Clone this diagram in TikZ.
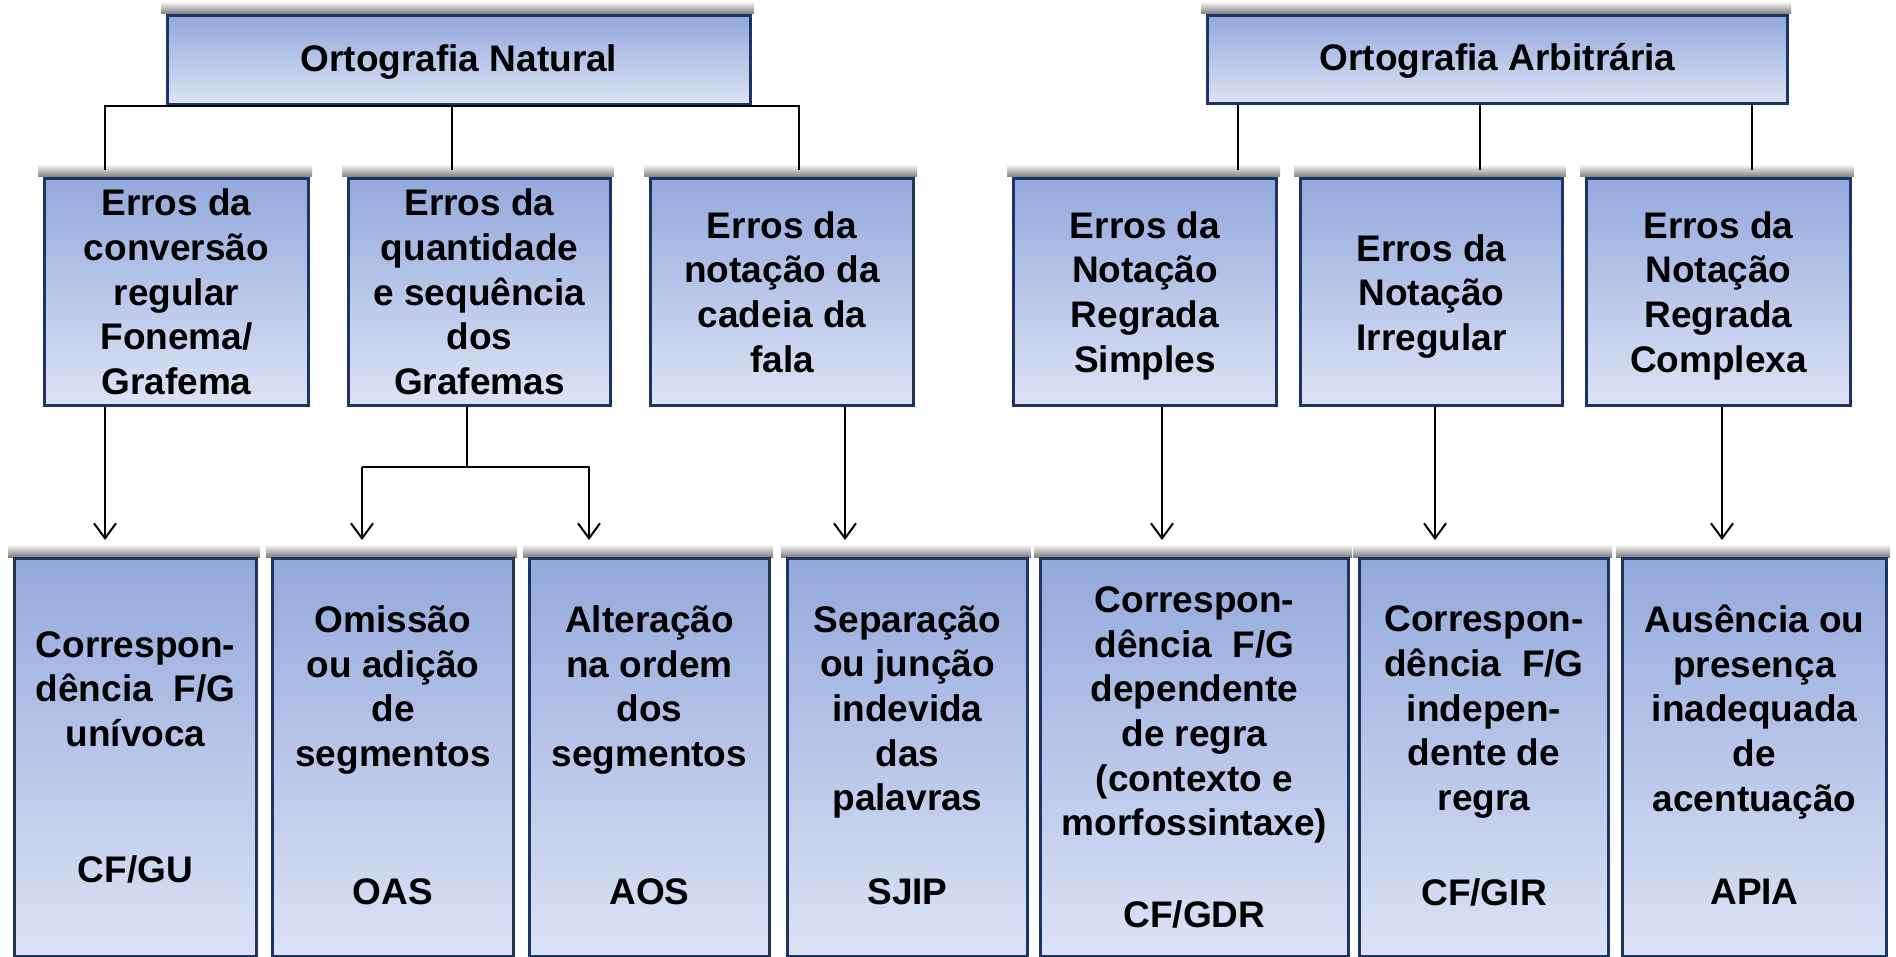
\documentclass[tikz,border=0pt]{standalone}
\usepackage{fontspec}
\setmainfont{Liberation Sans}
\usetikzlibrary{arrows.meta}
\definecolor{boxtop}{HTML}{93A9DC}
\definecolor{boxbot}{HTML}{DDE3F6}
\definecolor{boxline}{HTML}{1C3564}
\tikzset{
 shadowband/.style={top color=white, bottom color=black!50, draw=none},
 ebox/.style={top color=boxtop, bottom color=boxbot, draw=boxline, line width=3pt, inner sep=0pt, anchor=north west},
 txt/.style={font=\bfseries\fontsize{37}{44.7}\selectfont, align=center, inner sep=0pt},
 link/.style={line width=1.3pt},
 arr/.style={line width=2pt, -{Straight Barb[length=15pt,width=22pt,line width=2pt]}},
}
\newcommand\mybox[5]{%
 \fill[shadowband] (#2-5,#3-13) rectangle (#4+5,#3);
 \node[ebox, minimum width=#4-#2, minimum height=#5-#3] (#1) at (#2,#3) {};
}
\begin{document}
\begin{tikzpicture}[x=1pt,y=-1pt]
\useasboundingbox (0,0) rectangle (1896,957);
% top boxes
\mybox{ON}{166}{14}{749}{103}
\mybox{OA}{1206}{14}{1786}{102}
% middle boxes
\mybox{B1}{43}{177}{307}{404}
\mybox{B2}{347}{177}{609}{404}
\mybox{B3}{649}{177}{912}{404}
\mybox{B4}{1012}{177}{1275}{404}
\mybox{B5}{1299}{177}{1561}{404}
\mybox{B6}{1585}{177}{1849}{404}
% bottom boxes
\mybox{C1}{13}{557}{255}{955}
\mybox{C2}{271}{557}{512}{955}
\mybox{C3}{528}{557}{768}{955}
\mybox{C4}{786}{557}{1026}{955}
\mybox{C5}{1039}{557}{1347}{955}
\mybox{C6}{1358}{557}{1607}{955}
\mybox{C7}{1621}{557}{1885}{955}
% texts
\node[txt] (tON) at ([yshift=-2pt]ON.center) {Ortografia Natural};
\node[txt] (tOA) at ([yshift=-1pt]OA.center) {Ortografia Arbitrária};
\node[txt] (tB1) at (B1.center) {Erros da\\conversão\\regular\\Fonema/\\Grafema};
\node[txt] (tB2) at (B2.center) {Erros da\\quantidade\\e sequência\\dos\\Grafemas};
\node[txt] (tB3) at (B3.center) {Erros da\\notação da\\cadeia da\\fala};
\node[txt] (tB4) at ([yshift=-3.5pt]B4.center) {Erros da\\Notação\\Regrada\\Simples};
\node[txt] (tB5) at ([yshift=-4.5pt]B5.center) {Erros da\\Notação\\Irregular};
\node[txt] (tB6) at ([yshift=-3.5pt]B6.center) {Erros da\\Notação\\Regrada\\Complexa};
\node[txt] (tC1) at (C1.center |- 0,689) {Correspon-\\dência~ F/G\\unívoca};
\node[txt] (aC1) at (C1.center |- 0,869) {CF/GU};
\node[txt] (tC2) at (C2.center |- 0,690) {Omissão\\ou adição\\de\\segmentos};
\node[txt] (aC2) at (C2.center |- 0,892) {OAS};
\node[txt] (tC3) at (C3.center |- 0,690) {Alteração\\na ordem\\dos\\segmentos};
\node[txt] (aC3) at (C3.center |- 0,892) {AOS};
\node[txt] (tC4) at (C4.center |- 0,712) {Separação\\ou junção\\indevida\\das\\palavras};
\node[txt] (aC4) at (C4.center |- 0,892) {SJIP};
\node[txt] (tC5) at (C5.center |- 0,715) {Correspon-\\dência~ F/G\\dependente\\de regra\\(contexto e\\morfossintaxe)};
\node[txt] (aC5) at (C5.center |- 0,914) {CF/GDR};
\node[txt] (tC6) at (C6.center |- 0,712) {Correspon-\\dência~ F/G\\indepen-\\dente de\\regra};
\node[txt] (aC6) at (C6.center |- 0,892) {CF/GIR};
\node[txt] (tC7) at (C7.center |- 0,712) {Ausência ou\\presença\\inadequada\\de\\acentuação};
\node[txt] (aC7) at (C7.center |- 0,892) {APIA};
% connector end points
\coordinate (b1t) at (105,170);
\coordinate (b2t) at (452,170);
\coordinate (b3t) at (799,170);
\coordinate (b4t) at (1238,170);
\coordinate (b5t) at (1480,170);
\coordinate (b6t) at (1752,170);
\coordinate (c1t) at (105,540);
\coordinate (b2s) at (467,467);
\coordinate (c2t) at (362,540);
\coordinate (c3t) at (589,540);
\coordinate (c4t) at (845,540);
\coordinate (c5t) at (1162,540);
\coordinate (c6t) at (1435,540);
\coordinate (c7t) at (1722,540);
% top connectors
\draw[link] (b1t) |- (ON.south) -| (b3t);
\draw[link] (ON.south -| b2t) -- (b2t);
\draw[link] (OA.south -| b4t) -- (b4t);
\draw[link] (OA.south -| b5t) -- (b5t);
\draw[link] (OA.south -| b6t) -- (b6t);
% arrows
\draw[arr] (B1.south -| c1t) -- (c1t);
\draw[line width=2pt] (B2.south -| b2s) -- (b2s);
\draw[arr] (c2t |- b2s) -| (c2t);
\draw[arr] (b2s) -| (c3t);
\draw[line width=2pt] (b2s) -- (c2t |- b2s);
\draw[arr] (B3.south -| c4t) -- (c4t);
\draw[arr] (B4.south -| c5t) -- (c5t);
\draw[arr] (B5.south -| c6t) -- (c6t);
\draw[arr] (B6.south -| c7t) -- (c7t);
\end{tikzpicture}
\end{document}
